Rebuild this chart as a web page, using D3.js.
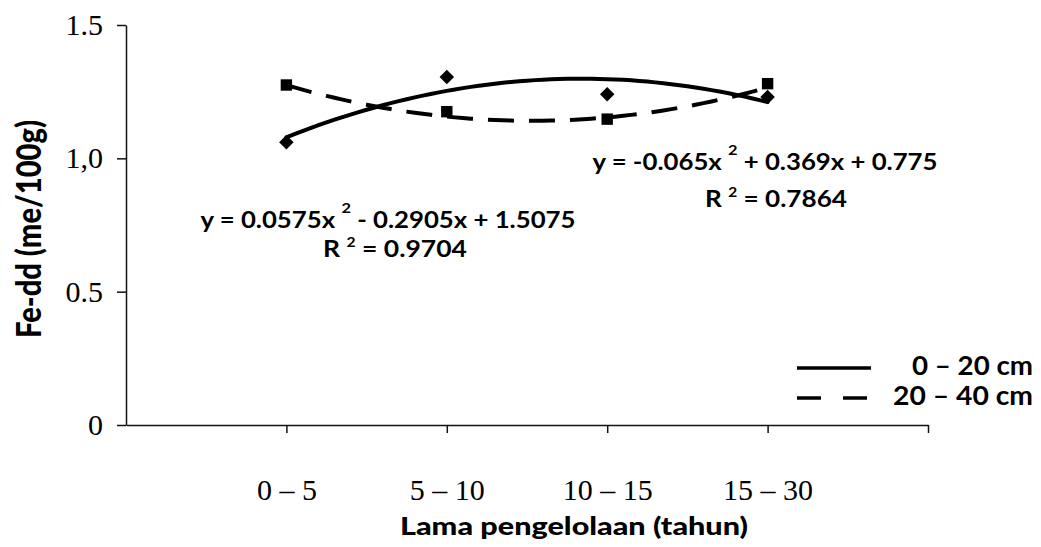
<!DOCTYPE html>
<html>
<head>
<meta charset="utf-8">
<script src="https://cdn.jsdelivr.net/npm/d3@7"></script>
<style>
  html, body { margin: 0; padding: 0; background: #fff; }
  svg { display: block; }
</style>
</head>
<body>
<svg id="chart" width="1041" height="547"></svg>
<script>
// ---------------- data ----------------
const categories = ["0 – 5", "5 – 10", "10 – 15", "15 – 30"];
const categoryX = [1, 2, 3, 4];
const seriesNames = ["0 – 20 cm", "20 – 40 cm"];
const values0_20 = [1.06, 1.305, 1.24, 1.23];     // diamonds, solid trend
const values20_40 = [1.275, 1.175, 1.147, 1.28];  // squares, dashed trend
// trendline coefficients as printed: a x^2 + b x + c
const trend0_20 = [-0.065, 0.369, 0.775];
const trend20_40 = [0.0575, -0.2905, 1.5075];
const r2_0_20 = "0.7864";
const r2_20_40 = "0.9704";
const yTicks = [0, 0.5, 1.0, 1.5];
const yTickLabels = ["0", "0.5", "1,0", "1.5"];

// ---------------- drawing ----------------
const svg = d3.select("#chart");
const x = d3.scaleLinear().domain([0, 5]).range([126, 928]);
const y = d3.scaleLinear().domain([0, 1.5]).range([425, 25]);

const sans = "Lato, 'Open Sans', 'DejaVu Sans', sans-serif";
const serif = "'Liberation Serif', 'Times New Roman', serif";

// Y axis
const yAxis = svg.append("g")
  .attr("transform", `translate(${x(0)},0)`)
  .call(d3.axisLeft(y).tickValues(yTicks)
    .tickFormat((d, i) => yTickLabels[i])
    .tickSize(9).tickSizeOuter(0).tickPadding(14));
yAxis.selectAll("text").attr("font-family", serif).attr("font-size", 30).attr("fill", "#000");
yAxis.selectAll("line,path").attr("stroke", "#111").attr("stroke-width", 1.5);

// X axis
const xAxis = svg.append("g")
  .attr("transform", `translate(0,${y(0)})`)
  .call(d3.axisBottom(x).tickValues([1, 2, 3, 4, 5])
    .tickFormat(d => (d <= categories.length ? categories[d - 1] : ""))
    .tickSize(8).tickSizeOuter(0).tickPadding(8));
xAxis.selectAll("text")
  .attr("font-family", serif).attr("font-size", 30).attr("fill", "#000")
  .attr("y", 75).attr("dy", null);
xAxis.selectAll("line,path").attr("stroke", "#111").attr("stroke-width", 1.5);

// Axis titles
svg.append("text")
  .attr("transform", "translate(41,229) rotate(-90)")
  .attr("text-anchor", "middle")
  .attr("font-family", sans).attr("font-weight", 900).attr("font-size", 34)
  .attr("textLength", 218).attr("lengthAdjust", "spacingAndGlyphs")
  .text("Fe-dd (me/100g)");

svg.append("text")
  .attr("x", 574).attr("y", 535)
  .attr("text-anchor", "middle")
  .attr("font-family", sans).attr("font-weight", 900).attr("font-size", 25)
  .attr("textLength", 348).attr("lengthAdjust", "spacingAndGlyphs")
  .text("Lama pengelolaan (tahun)");

// Trendlines
const poly = c => t => c[0] * t * t + c[1] * t + c[2];
const samples = d3.range(categoryX[0], categoryX[categoryX.length - 1] + 0.001, 0.05);
const line = d3.line().x(d => x(d[0])).y(d => y(d[1])).curve(d3.curveLinear);

svg.append("path")
  .datum(samples.map(t => [t, poly(trend0_20)(t)]))
  .attr("d", line).attr("fill", "none")
  .attr("stroke", "#000").attr("stroke-width", 4).attr("stroke-linecap", "round");

svg.append("path")
  .datum(samples.map(t => [t, poly(trend20_40)(t)]))
  .attr("d", line).attr("fill", "none")
  .attr("stroke", "#000").attr("stroke-width", 4)
  .attr("stroke-dasharray", "26,15");

// Markers
const diamond = d3.symbol(d3.symbolSquare, 105)();
const square = d3.symbol(d3.symbolSquare, 130)();
svg.append("g").selectAll("path")
  .data(values0_20)
  .join("path")
  .attr("d", diamond)
  .attr("transform", (d, i) => `translate(${x(categoryX[i])},${y(d)}) rotate(45)`)
  .attr("fill", "#000");
svg.append("g").selectAll("path")
  .data(values20_40)
  .join("path")
  .attr("d", square)
  .attr("transform", (d, i) => `translate(${x(categoryX[i])},${y(d)})`)
  .attr("fill", "#000");

// Equation labels
function fmtEq(c) {
  const sgn = v => (v < 0 ? "- " : "+ ") + Math.abs(v);
  return { a: "y = " + c[0] + "x ", rest: " " + sgn(c[1]) + "x " + sgn(c[2]) };
}
function equation(cx, baseline, len, c) {
  const e = fmtEq(c);
  const t = svg.append("text")
    .attr("x", cx).attr("y", baseline).attr("text-anchor", "middle")
    .attr("font-family", sans).attr("font-weight", 700).attr("font-size", 22)
    .attr("textLength", len).attr("lengthAdjust", "spacingAndGlyphs");
  t.append("tspan").text(e.a);
  t.append("tspan").attr("dy", -15).attr("font-size", 14).text("2");
  t.append("tspan").attr("dy", 15).text(e.rest);
}
function r2label(cx, baseline, len, r) {
  const t = svg.append("text")
    .attr("x", cx).attr("y", baseline).attr("text-anchor", "middle")
    .attr("font-family", sans).attr("font-weight", 700).attr("font-size", 22)
    .attr("textLength", len).attr("lengthAdjust", "spacingAndGlyphs");
  t.append("tspan").text("R ");
  t.append("tspan").attr("dy", -10).attr("font-size", 13).text("2");
  t.append("tspan").attr("dy", 10).text(" = " + r);
}
equation(388, 228, 375, trend20_40);
r2label(395, 257, 144, r2_20_40);
equation(765, 170, 345, trend0_20);
r2label(776, 207, 142, r2_0_20);

// Legend
const legend = svg.append("g");
legend.append("line").attr("x1", 797).attr("x2", 871).attr("y1", 368).attr("y2", 368)
  .attr("stroke", "#000").attr("stroke-width", 3.5);
legend.append("line").attr("x1", 797).attr("x2", 871).attr("y1", 398).attr("y2", 398)
  .attr("stroke", "#000").attr("stroke-width", 3.5).attr("stroke-dasharray", "24,22");
legend.append("text").attr("x", 1033).attr("y", 375).attr("text-anchor", "end")
  .attr("font-family", sans).attr("font-weight", 700).attr("font-size", 26)
  .attr("textLength", 121).attr("lengthAdjust", "spacingAndGlyphs")
  .text(seriesNames[0]);
legend.append("text").attr("x", 1033).attr("y", 405).attr("text-anchor", "end")
  .attr("font-family", sans).attr("font-weight", 700).attr("font-size", 26)
  .attr("textLength", 140).attr("lengthAdjust", "spacingAndGlyphs")
  .text(seriesNames[1]);
</script>
</body>
</html>
